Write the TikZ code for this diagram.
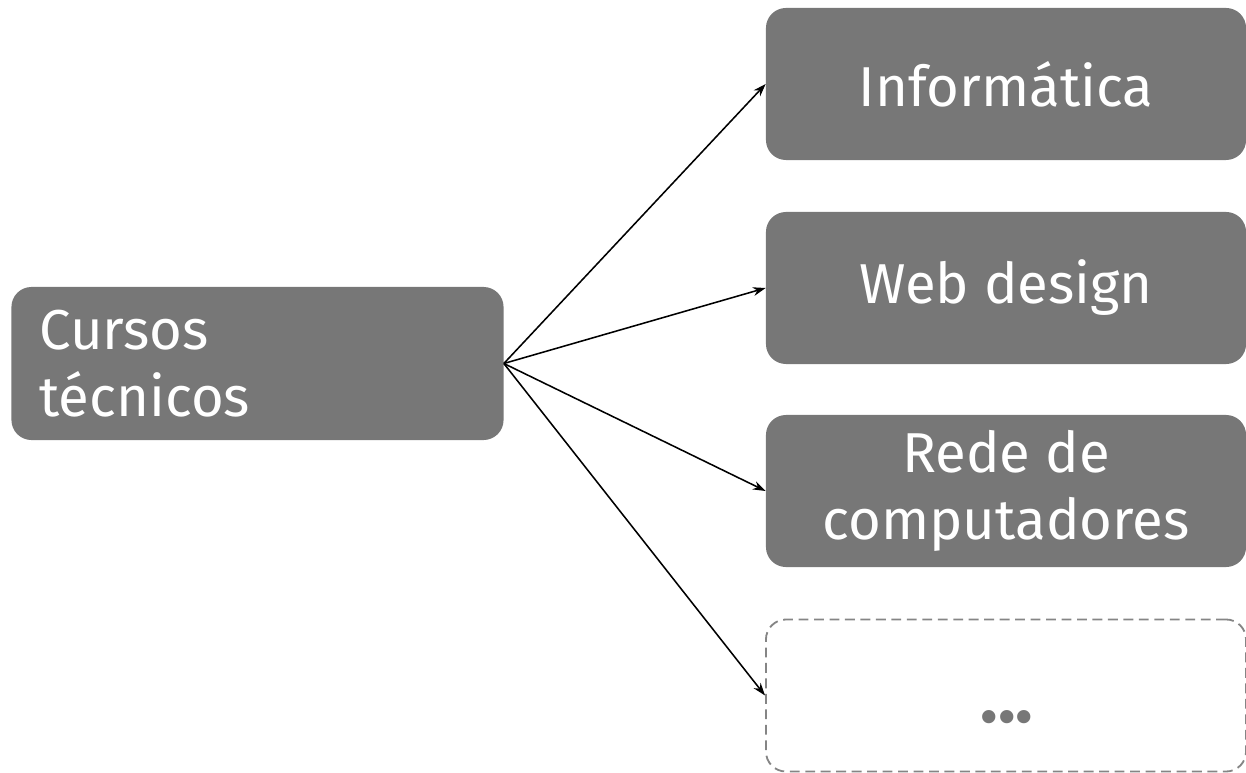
\documentclass[tikz,border=0pt]{standalone}
\usepackage{fontspec}
\setmainfont{Fira Sans}
\usetikzlibrary{arrows.meta}

\definecolor{boxgray}{HTML}{777777}
\definecolor{dashgray}{HTML}{858585}

\tikzset{
  course/.style={fill=boxgray, rounded corners=0.5cm, text=white,
    minimum width=12cm, minimum height=3.8cm, align=center,
    font=\fontsize{40}{48}\selectfont},
  link/.style={-{Stealth[length=0.32cm,width=0.22cm]}, line width=1.1pt}
}

\begin{document}
\begin{tikzpicture}[x=0.025cm, y=-0.025cm]

    \useasboundingbox (0,0) rectangle (1246,773);

    % Source box
    \node[course, minimum width=12.275cm, minimum height=3.825cm,
          text width=10.9cm, align=left, inner xsep=0.7cm] (tecnicos) at (257.5,363.5)
          {Cursos\\técnicos};

    % Course boxes
    \node[course] (informatica) at (1006,84)  {Informática};
    \node[course] (webdesign)   at (1006,288) {Web design};
    \node[course] (rede)        at (1006,491) {Rede de\\computadores};
    \node[course, fill=none, draw=dashgray, dashed, line width=1.3pt,
          dash pattern=on 7pt off 4pt] (outros) at (1006,695.5) {};
    \node[text=boxgray, font=\fontsize{52}{60}\selectfont\bfseries] (dots) at (1007,717) {...};

    % Arrows
    \draw[link] (tecnicos.east) -- (informatica.west);
    \draw[link] (tecnicos.east) -- (webdesign.west);
    \draw[link] (tecnicos.east) -- (rede.west);
    \draw[link] (tecnicos.east) -- (outros.west);

\end{tikzpicture}
\end{document}
